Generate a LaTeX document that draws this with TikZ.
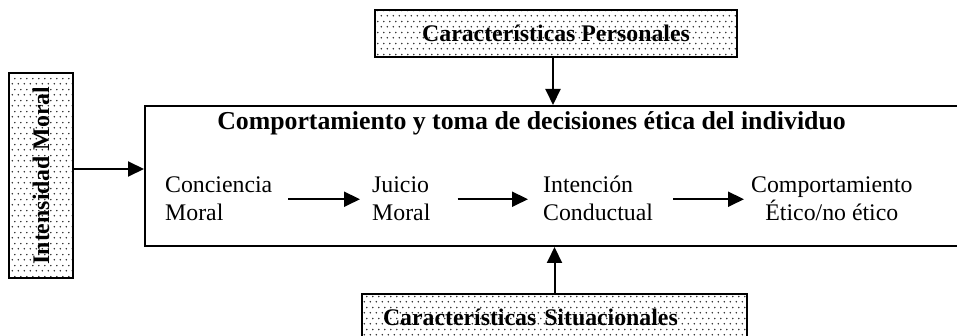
\documentclass[tikz,border=0pt]{standalone}
\usepackage{fontspec}
\setmainfont{Liberation Serif}
\usetikzlibrary{arrows.meta,patterns}
\pgfdeclarepatternformonly{sdots}{\pgfpoint{0pt}{0pt}}{\pgfpoint{5.5pt}{10.6pt}}{\pgfpoint{5.5pt}{10.6pt}}{%
  \pgfpathcircle{\pgfpoint{1.4pt}{1.3pt}}{0.85pt}%
  \pgfpathcircle{\pgfpoint{4.15pt}{6.6pt}}{0.85pt}%
  \pgfusepath{fill}}
\tikzset{
  box/.style={draw, line width=2pt, inner sep=0pt},
  shadebox/.style={box, pattern=sdots, pattern color=black!85},
  lbl/.style={font=\fontsize{23.8}{28}\selectfont, inner sep=0pt, align=left},
  blbl/.style={font=\bfseries\fontsize{23.8}{28}\selectfont, inner sep=0pt},
  arr/.style={line width=2pt, -{Triangle[length=16pt,width=15pt]}},
}
\begin{document}
\begin{tikzpicture}[x=1pt,y=-1pt]
\useasboundingbox (0,0) rectangle (957,336);
\clip (0,0) rectangle (957,336);
% main box (its right side lies past the picture's edge)
\node[box, minimum width=818pt, minimum height=140pt, anchor=north west] (main) at (144,105) {};
\node[font=\bfseries\fontsize{25.8}{30}\selectfont, anchor=base, inner sep=0pt] (title) at (531.5,130) {Comportamiento y toma de decisiones ética del individuo};
% flow (base anchor = baseline of the last line)
\node[lbl, anchor=base west] (c1) at (165,221) {Conciencia\\Moral};
\node[lbl, anchor=base west] (c2) at (372,221) {Juicio\\Moral};
\node[lbl, anchor=base west] (c3) at (543,221) {Intención\\Conductual};
\node[lbl, align=center, anchor=base west] (c4) at (751,221) {Comportamiento\\Ético/no ético};
\draw[arr, shorten <=16pt, shorten >=12pt] (c1.east) -- (c1.east -| c2.west);
\draw[arr, shorten <=27pt, shorten >=15pt] (c2.east |- c1.east) -- (c1.east -| c3.west);
\draw[arr, shorten <=20pt, shorten >=7pt] (c3.east |- c1.east) -- (c1.east -| c4.west);
% outer factors
\node[shadebox, blbl, minimum width=362pt, minimum height=47pt] (pers) at (556,33.5) {Características Personales};
\node[shadebox, blbl, anchor=north west, text width=343pt, align=left, inner xsep=21pt, inner ysep=15pt, text height=16pt, text depth=30pt] (sit) at (361,293) {Características Situacionales};
\node[shadebox, minimum width=64pt, minimum height=205pt] (im) at (41,175.5) {};
\node[blbl, rotate=90] (imt) at (im.center) {Intensidad Moral};
\coordinate (ia) at (0,169);
\draw[arr] (im.east |- ia) -- (main.west |- ia);
\draw[arr] ([xshift=-3pt]pers.south) -- ([xshift=-3pt]pers.south |- main.north);
\draw[arr] (sit.north) -- (sit.north |- main.south);
\end{tikzpicture}
\end{document}
